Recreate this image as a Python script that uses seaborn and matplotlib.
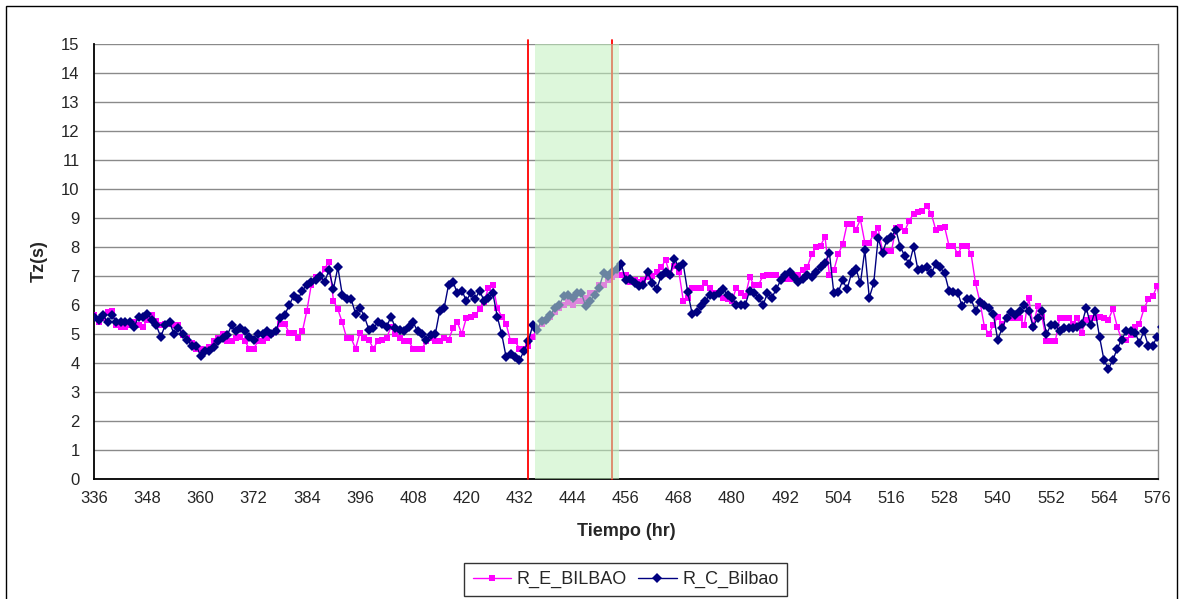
import numpy as np
import pandas as pd
import matplotlib
matplotlib.use("Agg")
import matplotlib.pyplot as plt
from matplotlib.patches import Rectangle
import seaborn as sns

# Hourly wave period Tz (s), Bilbao buoy, hours 336..577
hours = list(range(336, 578))

r_e_bilbao = [
    5.65, 5.4, 5.55, 5.75, 5.8, 5.3, 5.25, 5.25, 5.3, 5.4, 5.3, 5.25,      # 336
    5.5, 5.65, 5.45, 5.3, 5.35, 5.35, 5.3, 5.3, 4.95, 4.85, 4.7, 4.5,      # 348
    4.5, 4.45, 4.55, 4.75, 4.85, 5.0, 4.75, 4.75, 4.85, 4.9, 4.75, 4.5,    # 360
    4.5, 4.75, 4.75, 4.85, 5.0, 5.1, 5.35, 5.35, 5.05, 5.05, 4.85, 5.1,    # 372
    5.8, 6.7, 6.95, 6.95, 7.25, 7.5, 6.15, 5.85, 5.4, 4.85, 4.85, 4.5,     # 384
    5.05, 4.85, 4.8, 4.5, 4.75, 4.8, 4.85, 5.25, 5.0, 4.85, 4.75, 4.75,    # 396
    4.5, 4.5, 4.5, 4.75, 4.85, 4.75, 4.75, 4.85, 4.8, 5.2, 5.4, 5.0,       # 408
    5.55, 5.6, 5.65, 5.85, 6.1, 6.6, 6.7, 5.9, 5.6, 5.35, 4.75, 4.75,      # 420
    4.5, 4.5, 4.6, 4.9, 5.2, 5.35, 5.5, 5.6, 5.75, 5.9, 6.0, 6.1,          # 432
    6.0, 6.15, 6.15, 6.25, 6.4, 6.4, 6.7, 6.7, 6.85, 6.95, 7.05, 7.05,     # 444
    7.05, 6.8, 6.85, 6.8, 6.85, 6.95, 7.0, 7.15, 7.3, 7.55, 7.05, 7.35,    # 456
    7.15, 6.15, 6.25, 6.6, 6.6, 6.6, 6.75, 6.6, 6.4, 6.4, 6.25, 6.2,       # 468
    6.15, 6.6, 6.4, 6.3, 6.95, 6.7, 6.7, 7.0, 7.05, 7.05, 7.05, 6.9,       # 480
    6.9, 6.9, 7.05, 7.05, 7.2, 7.3, 7.75, 8.0, 8.05, 8.35, 7.05, 7.2,      # 492
    7.75, 8.1, 8.8, 8.8, 8.6, 8.95, 8.15, 8.15, 8.45, 8.65, 7.85, 7.85,    # 504
    7.85, 8.65, 8.7, 8.55, 8.9, 9.15, 9.2, 9.25, 9.4, 9.15, 8.6, 8.65,     # 516
    8.7, 8.05, 8.05, 7.75, 8.05, 8.05, 7.75, 6.75, 6.1, 5.25, 5.0, 5.3,    # 528
    5.6, 5.35, 5.55, 5.55, 5.55, 5.55, 5.3, 6.25, 5.25, 5.95, 5.6, 4.75,   # 540
    4.75, 4.75, 5.55, 5.55, 5.55, 5.35, 5.55, 5.05, 5.5, 5.55, 5.55, 5.6,  # 552
    5.55, 5.5, 5.85, 5.25, 4.8, 4.8, 4.95, 5.25, 5.35, 5.85, 6.2, 6.3,     # 564
    6.65, 5.9,                                                             # 576
]

r_c_bilbao = [
    5.6, 5.5, 5.65, 5.4, 5.65, 5.4, 5.4, 5.4, 5.4, 5.25, 5.6, 5.6,         # 336
    5.7, 5.5, 5.3, 4.9, 5.3, 5.4, 5.0, 5.2, 5.0, 4.8, 4.6, 4.6,            # 348
    4.25, 4.4, 4.4, 4.55, 4.75, 4.85, 4.95, 5.3, 5.1, 5.2, 5.1, 4.9,       # 360
    4.8, 5.0, 5.0, 5.1, 5.0, 5.1, 5.55, 5.65, 6.0, 6.3, 6.2, 6.5,          # 372
    6.7, 6.8, 6.85, 7.0, 6.8, 7.2, 6.55, 7.3, 6.35, 6.2, 6.2, 5.7,         # 384
    5.9, 5.6, 5.15, 5.2, 5.4, 5.35, 5.25, 5.6, 5.2, 5.15, 5.1, 5.25,       # 396
    5.4, 5.1, 5.0, 4.8, 4.95, 5.0, 5.8, 5.9, 6.7, 6.8, 6.4, 6.5,           # 408
    6.15, 6.4, 6.2, 6.5, 6.15, 6.25, 6.4, 5.6, 5.0, 4.2, 4.3, 4.2,         # 420
    4.1, 4.4, 4.75, 5.3, 5.15, 5.45, 5.5, 5.65, 5.9, 6.0, 6.3, 6.35,       # 432
    6.25, 6.4, 6.4, 5.95, 6.15, 6.35, 6.6, 7.1, 7.0, 7.15, 7.25, 7.4,      # 444
    6.85, 6.9, 6.75, 6.65, 6.7, 7.15, 6.75, 6.55, 7.0, 7.15, 7.05, 7.6,    # 456
    7.3, 7.4, 6.45, 5.7, 5.75, 5.95, 6.15, 6.35, 6.3, 6.4, 6.55, 6.35,     # 468
    6.25, 6.0, 6.0, 6.0, 6.5, 6.4, 6.25, 6.0, 6.4, 6.25, 6.55, 6.85,       # 480
    7.05, 7.15, 6.95, 6.8, 6.9, 7.05, 6.95, 7.15, 7.3, 7.45, 7.8, 6.4,     # 492
    6.45, 6.85, 6.55, 7.1, 7.25, 6.75, 7.9, 6.25, 6.75, 8.3, 7.8, 8.25,    # 504
    8.35, 8.6, 8.0, 7.7, 7.4, 8.0, 7.2, 7.25, 7.3, 7.1, 7.4, 7.3,          # 516
    7.1, 6.5, 6.45, 6.4, 5.95, 6.2, 6.2, 5.8, 6.1, 6.0, 5.9, 5.7,          # 528
    4.8, 5.2, 5.55, 5.75, 5.65, 5.8, 6.0, 5.8, 5.25, 5.55, 5.8, 5.0,       # 540
    5.3, 5.3, 5.1, 5.2, 5.2, 5.2, 5.25, 5.35, 5.9, 5.3, 5.8, 4.9,          # 552
    4.1, 3.8, 4.1, 4.5, 4.8, 5.1, 5.1, 5.05, 4.7, 5.1, 4.6, 4.6,           # 564
    4.9, 5.25,                                                             # 576
]

x_ticks = list(range(336, 577, 12))
y_ticks = list(range(0, 16))
red_marks = [434, 453]
window = (435.5, 454.5)

sns.set_style("white")
plt.rcParams["font.family"] = ["Liberation Sans", "DejaVu Sans"]

W, H = 1184, 599
fig = plt.figure(figsize=(W / 100, H / 100), dpi=100)
ax = fig.add_axes([94.3 / W, 1 - 479 / H, (1158 - 94.3) / W, (479 - 44) / H])

df_e = pd.DataFrame({"Tiempo": hours, "Tz": r_e_bilbao})
df_c = pd.DataFrame({"Tiempo": hours, "Tz": r_c_bilbao})

sns.lineplot(data=df_e, x="Tiempo", y="Tz", ax=ax, color="#FF00FF",
             marker="s", markersize=4.2, markeredgewidth=0, linewidth=1.0,
             label="R_E_BILBAO", zorder=3)
sns.lineplot(data=df_c, x="Tiempo", y="Tz", ax=ax, color="#000080",
             marker="D", markersize=4.6, markeredgewidth=0, linewidth=1.0,
             label="R_C_Bilbao", zorder=3)

# vertical markers and highlighted window (drawn over the series)
for xr in red_marks:
    ax.axvline(xr, ymin=0, ymax=1.01, color="#FF0000", lw=1.3, zorder=4,
               clip_on=False)
ax.axvspan(window[0], window[1], color="#c2f2be", alpha=0.55, lw=0, zorder=5)

ax.set_xlim(336, 576.2)
ax.set_ylim(0, 15)
ax.set_xticks(x_ticks)
ax.set_yticks(y_ticks)
ax.yaxis.grid(True, color="#8a8a8a", lw=1.0)
ax.xaxis.grid(False)
ax.set_axisbelow(True)

for side in ("left", "bottom"):
    ax.spines[side].set_color("black")
    ax.spines[side].set_linewidth(1.3)
ax.spines["top"].set_visible(False)
ax.spines["right"].set_color("#8a8a8a")
ax.spines["right"].set_linewidth(1.0)

ax.tick_params(axis="both", which="major", direction="out", length=4.5,
               width=1.0, color="black", labelsize=12)
ax.tick_params(axis="y", pad=6)
ax.tick_params(axis="x", pad=4)

ax.set_xlabel("Tiempo (hr)", fontsize=13, fontweight="bold")
ax.xaxis.set_label_coords(0.5, -0.1)
ax.set_ylabel("Tz(s)", fontsize=13, fontweight="bold")
ax.yaxis.set_label_coords(-0.044, 0.5)

ax.get_legend().remove()
handles, labels = ax.get_legend_handles_labels()
leg = fig.legend(handles, labels, loc="center",
                 bbox_to_anchor=(625.5 / W, 1 - 579.5 / H), ncol=2,
                 frameon=True, fancybox=False, edgecolor="black",
                 fontsize=13, handlelength=2.15, columnspacing=0.6,
                 handletextpad=0.3, borderpad=0.45)
leg.get_frame().set_linewidth(1.0)

# outer chart border
fig.patches.append(Rectangle((6 / W, -0.05), (1177 - 6) / W, 1 - 6 / H + 0.05,
                             transform=fig.transFigure, fill=False,
                             edgecolor="black", lw=1.0))

fig.savefig("out.png", dpi=100)
